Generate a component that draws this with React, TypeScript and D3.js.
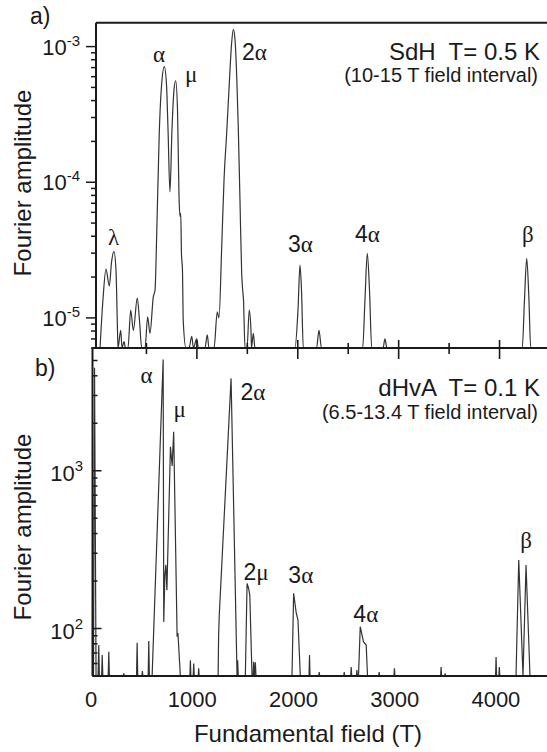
import React, { useEffect, useRef } from "react";
import * as d3 from "d3";

const W = 547;
const H = 752;
const SANS = "'Liberation Sans', Arial, Helvetica, sans-serif";
const SERIF = "'Liberation Serif', 'Times New Roman', serif";

// a) SdH spectrum, T = 0.5 K (field in T, amplitude)
const sdhField = [
  40, 69, 99, 132, 154, 178, 198, 213, 218, 245, 258, 278, 292, 317, 344, 370, 409, 431, 453,
  486, 512, 535, 568, 585, 602, 627, 654, 677, 699, 714, 733, 753, 773, 790, 808, 823, 833, 840,
  847, 857, 865, 892, 922, 949, 966, 998, 1016, 1080, 1103, 1120, 1170, 1202, 1219, 1246, 1269,
  1295, 1318, 1343, 1361, 1378, 1396, 1410, 1427, 1444, 1454, 1462, 1477, 1497, 1519, 1536, 1541,
  1559, 1576, 1972, 2002, 2022, 2037, 2055, 2186, 2210, 2235, 2643, 2666, 2689, 2711, 2733, 2845,
  2864, 2884, 4225, 4247, 4269, 4290, 4309, 4500,
];
const sdhAmp = [
  5e-6, 1.36e-5, 2.29e-5, 1.72e-5, 2.58e-5, 3.08e-5, 2.25e-5, 8.1e-6, 5e-6, 8.1e-6, 5e-6, 6.7e-6,
  5e-6, 5e-6, 1.14e-5, 8.1e-6, 1.4e-5, 9.6e-6, 5e-6, 5e-6, 1.02e-5, 7.7e-6, 1.43e-5, 1.6e-5,
  4.2e-5, 2.31e-4, 5.67e-4, 7.11e-4, 5.2e-4, 2.43e-4, 8.5e-5, 2.43e-4, 4.8e-4, 5.6e-4, 3.4e-4,
  7.8e-5, 5.6e-5, 5.9e-5, 3.0e-5, 2.25e-5, 9.4e-6, 5e-6, 5e-6, 7.3e-6, 5e-6, 7.0e-6, 5e-6, 5e-6,
  7.5e-6, 5e-6, 5e-6, 1.11e-5, 1.0e-5, 3.35e-5, 1.04e-4, 2.29e-4, 4.8e-4, 1.03e-3, 1.34e-3,
  1.12e-3, 5.67e-4, 2.57e-4, 7.4e-5, 2.13e-5, 1.6e-5, 1.36e-5, 5e-6, 5e-6, 1.14e-5, 8.1e-6, 5e-6,
  7.7e-6, 5e-6, 5e-6, 1.14e-5, 2.45e-5, 1.6e-5, 5e-6, 5e-6, 8.1e-6, 5e-6, 5e-6, 1.36e-5, 2.99e-5,
  1.6e-5, 5e-6, 5e-6, 7.0e-6, 5e-6, 5e-6, 1.36e-5, 2.75e-5, 1.45e-5, 5e-6, 5e-6,
];

// b) dHvA spectrum, T = 0.1 K
const dhvaField = [
  0, 10, 20, 35, 55, 62, 68, 90, 96, 102, 155, 161, 167, 303, 309, 315, 435, 441, 447, 488, 493,
  498, 550, 556, 562, 589, 698, 704, 715, 725, 735, 770, 787, 802, 836, 844, 868, 962, 967, 972,
  995, 1000, 1005, 1044, 1049, 1054, 1241, 1246, 1252, 1369, 1428, 1434, 1440, 1510, 1527, 1542,
  1554, 1576, 1587, 1592, 1600, 1609, 1615, 1971, 1987, 2013, 2030, 2053, 2139, 2144, 2149, 2235,
  2240, 2245, 2482, 2487, 2492, 2551, 2556, 2561, 2607, 2612, 2617, 2628, 2645, 2677, 2704, 2717,
  2827, 2832, 2837, 2978, 2983, 2988, 3439, 3444, 3449, 3479, 3484, 3489, 3982, 3987, 3992, 4014,
  4019, 4024, 4184, 4211, 4253, 4283, 4322, 4500,
];
const dhvaAmp = [
  45, 45, 4500, 45, 45, 78.6, 45, 45, 68, 45, 45, 71.3, 45, 45, 52, 45, 45, 81.3, 45, 45, 53.8, 45,
  45, 83.3, 45, 45, 5080, 110, 218, 253, 175, 1420, 1071, 1767, 88.7, 93.6, 45, 45, 63, 45, 45, 60,
  45, 45, 56, 45, 45, 91, 120, 3850, 45, 63, 45, 45, 193, 180, 163, 45, 45, 61.6, 45, 61, 45, 45,
  167, 125, 113, 45, 45, 68, 45, 45, 53, 45, 45, 53, 45, 45, 57, 45, 45, 54.6, 45, 45, 102.7, 82.5,
  78.6, 45, 45, 53, 45, 45, 56, 45, 45, 57, 45, 45, 52, 45, 45, 66, 45, 45, 57, 45, 45, 272, 45,
  252.6, 45, 45,
];

const fieldTicks = [0, 1000, 2000, 3000, 4000];
const sdhDecades = [1e-5, 1e-4, 1e-3];
const sdhExponents = ["-5", "-4", "-3"];
const dhvaDecades = [1e2, 1e3];
const dhvaExponents = ["2", "3"];

// peak labels (text, field, amplitude of the label baseline start)
const sdhPeakNames = ["λ", "α", "μ", "2α", "3α", "4α", "β"];
const sdhPeakField = [119, 565, 882, 1447, 1903, 2567, 4222];
const sdhPeakAmp = [3.45e-5, 7.7e-4, 5.5e-4, 8.0e-4, 3.06e-5, 3.63e-5, 3.63e-5];
const dhvaPeakNames = ["α", "μ", "2α", "2μ", "3α", "4α", "β"];
const dhvaPeakField = [474, 800, 1461, 1491, 1935, 2577, 4225];
const dhvaPeakAmp = [3595, 2190, 2805, 203, 194, 110, 324];

export default function App() {
  const ref = useRef<SVGSVGElement>(null);

  useEffect(() => {
    const svg = d3.select(ref.current);
    svg.selectAll("*").remove();

    const xa = d3.scaleLinear().domain([0, 4500]).range([96, 550]);
    const ya = d3.scaleLog().domain([6e-6, 1.5e-3]).range([348, 22.7]).clamp(true);
    const xb = d3.scaleLinear().domain([0, 4500]).range([92.5, 548]);
    const yb = d3.scaleLog().domain([50, 6000]).range([676, 348]).clamp(true);

    const ink = "#1a1a1a";

    // spectra
    const lineA = d3
      .line<number>()
      .x((d, i) => xa(sdhField[i]))
      .y((d) => ya(d))
      .curve(d3.curveMonotoneX);
    svg.append("path")
      .attr("d", lineA(sdhAmp))
      .attr("fill", "none")
      .attr("stroke", "#333")
      .attr("stroke-width", 1.2);

    const lineB = d3
      .line<number>()
      .x((d, i) => xb(dhvaField[i]))
      .y((d) => yb(d));
    svg.append("path")
      .attr("d", lineB(dhvaAmp))
      .attr("fill", "none")
      .attr("stroke", "#333")
      .attr("stroke-width", 1.2);

    // frames
    const frame = svg.append("g").attr("stroke", ink).attr("fill", "none");
    frame.append("line").attr("x1", xa(0)).attr("x2", W + 5).attr("y1", ya.range()[1]).attr("y2", ya.range()[1]).attr("stroke-width", 2);
    frame.append("line").attr("x1", xa(0)).attr("x2", xa(0)).attr("y1", ya.range()[1]).attr("y2", ya.range()[0]).attr("stroke-width", 2);
    frame.append("line").attr("x1", xb(0)).attr("x2", W + 5).attr("y1", ya.range()[0]).attr("y2", ya.range()[0]).attr("stroke-width", 2.2);
    frame.append("line").attr("x1", xb(0)).attr("x2", xb(0)).attr("y1", yb.range()[1]).attr("y2", yb.range()[0]).attr("stroke-width", 2);
    frame.append("line").attr("x1", xb(0)).attr("x2", W + 5).attr("y1", yb.range()[0]).attr("y2", yb.range()[0]).attr("stroke-width", 2.2);

    // a) y ticks, outward
    ya.ticks().forEach((v) => {
      const major = sdhDecades.some((d) => Math.abs(d - v) / d < 1e-6);
      frame.append("line")
        .attr("x1", xa(0) - (major ? 10 : 5)).attr("x2", xa(0))
        .attr("y1", ya(v)).attr("y2", ya(v))
        .attr("stroke-width", 1.5);
    });
    // b) y ticks, inward
    yb.ticks().forEach((v) => {
      const major = dhvaDecades.some((d) => Math.abs(d - v) / d < 1e-6);
      frame.append("line")
        .attr("x1", xb(0)).attr("x2", xb(0) + (major ? 9 : 5))
        .attr("y1", yb(v)).attr("y2", yb(v))
        .attr("stroke-width", 1.5);
    });
    // shared x axis ticks (crossing)
    xa.ticks(9).filter((v) => v > 0 && v < 4500).forEach((v) => {
      const major = v % 1000 === 0;
      frame.append("line")
        .attr("x1", xa(v)).attr("x2", xa(v))
        .attr("y1", ya.range()[0] - (major ? 8 : 5))
        .attr("y2", ya.range()[0] + (major ? 11 : 6))
        .attr("stroke-width", 1.6);
    });

    const text = svg.append("g").attr("fill", ink).attr("font-family", SANS);

    // y tick labels
    sdhDecades.forEach((v, i) => {
      const t = text.append("text").attr("x", 80).attr("y", ya(v) + 8).attr("text-anchor", "end");
      t.append("tspan").attr("font-size", 22).text("10");
      t.append("tspan").attr("font-size", 15).attr("dy", -9).text(sdhExponents[i]);
    });
    dhvaDecades.forEach((v, i) => {
      const t = text.append("text").attr("x", 83).attr("y", yb(v) + 10).attr("text-anchor", "end");
      t.append("tspan").attr("font-size", 22).text("10");
      t.append("tspan").attr("font-size", 15).attr("dy", -10).text(dhvaExponents[i]);
    });

    // x tick labels
    fieldTicks.forEach((v) => {
      text.append("text")
        .attr("x", xb(v) - 1.5).attr("y", 707)
        .attr("text-anchor", "middle").attr("font-size", 22)
        .text(String(v));
    });

    // axis titles
    text.append("text")
      .attr("x", 308).attr("y", 742).attr("text-anchor", "middle").attr("font-size", 24)
      .text("Fundamental field (T)");
    [183, 527].forEach((cy) => {
      text.append("text")
        .attr("transform", `translate(31,${cy}) rotate(-90)`)
        .attr("text-anchor", "middle").attr("font-size", 24)
        .text("Fourier amplitude");
    });

    // panel letters
    text.append("text").attr("x", 30).attr("y", 24).attr("font-size", 23).text("a)");
    text.append("text").attr("x", 35).attr("y", 376).attr("font-size", 23).text("b)");

    // conditions
    const pre = (s: d3.Selection<SVGTextElement, unknown, null, undefined>) =>
      s.attr("xml:space", "preserve").style("white-space", "pre");
    pre(text.append("text").attr("x", 540).attr("y", 60).attr("text-anchor", "end").attr("font-size", 24)).text("SdH  T= 0.5 K");
    text.append("text").attr("x", 538).attr("y", 82).attr("text-anchor", "end").attr("font-size", 20).text("(10-15 T field interval)");
    pre(text.append("text").attr("x", 540).attr("y", 396).attr("text-anchor", "end").attr("font-size", 24)).text("dHvA  T= 0.1 K");
    text.append("text").attr("x", 538).attr("y", 419).attr("text-anchor", "end").attr("font-size", 20).text("(6.5-13.4 T field interval)");

    // peak labels
    const peakLabel = (name: string, x: number, y: number) => {
      const t = text.append("text").attr("x", x).attr("y", y);
      for (const ch of name) {
        const digit = /[0-9]/.test(ch);
        t.append("tspan")
          .attr("font-family", digit ? SANS : SERIF)
          .attr("font-size", digit ? 23 : 23)
          .text(ch);
      }
    };
    sdhPeakNames.forEach((n, i) => peakLabel(n, xa(sdhPeakField[i]), ya(sdhPeakAmp[i])));
    dhvaPeakNames.forEach((n, i) => peakLabel(n, xb(dhvaPeakField[i]), yb(dhvaPeakAmp[i])));
  }, []);

  return (
    <svg
      ref={ref}
      width={W}
      height={H}
      style={{ position: "absolute", left: 0, top: 0, background: "#fff" }}
    />
  );
}
